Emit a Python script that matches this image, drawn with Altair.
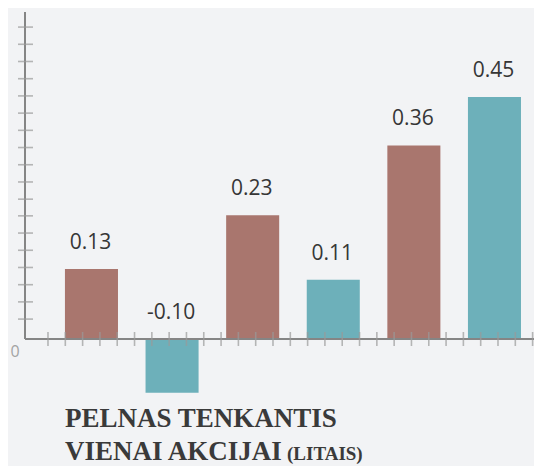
import altair as alt
import pandas as pd

# ---- data ----
categories = ["1", "2", "3", "4", "5", "6"]
values = [0.13, -0.10, 0.23, 0.11, 0.36, 0.45]
labels = ["0.13", "-0.10", "0.23", "0.11", "0.36", "0.45"]
bar_colors = ["#a9766e", "#6db0ba", "#a9766e", "#6db0ba", "#a9766e", "#6db0ba"]
x_ticks = list(range(29))
y_ticks = [0.037, 0.069, 0.101, 0.133, 0.165, 0.197, 0.229, 0.260, 0.292,
           0.324, 0.356, 0.388, 0.420, 0.452, 0.484, 0.516, 0.548, 0.580]
title_line1 = ["PELNAS TENKANTIS"]
title_line2 = ["VIENAI AKCIJAI"]
title_unit = ["(LITAIS)"]
zero_label = ["0"]

W, H = 526, 458
AXIS = "#858585"
TICK = "#9a9a9a"

bars_df = pd.DataFrame({"cat": categories, "value": values,
                        "label": labels, "color": bar_colors})

y_scale = alt.Scale(domain=[-0.23615, 0.61547], nice=False, zero=False)
x_band = alt.Scale(type="band", paddingInner=0.342, paddingOuter=0.434, align=0.814)

base = alt.Chart(bars_df)

bars = base.mark_bar().encode(
    x=alt.X("cat:N", scale=x_band, axis=None, sort=None),
    y=alt.Y("value:Q", scale=y_scale, axis=None),
    color=alt.Color("color:N", scale=None),
)

value_labels = base.transform_calculate(
    ly="max(datum.value, 0)"
).mark_text(
    dy=-20, dx=-1, baseline="alphabetic", align="center",
    font="Open Sans", fontSize=21, color="#363636",
).encode(
    x=alt.X("cat:N", scale=x_band, axis=None, sort=None),
    y=alt.Y("ly:Q", scale=y_scale, axis=None),
    text="label:N",
)

zero_line = alt.Chart(pd.DataFrame({"z": [0]})).mark_rule(
    color=AXIS, strokeWidth=2
).encode(
    y=alt.Y("z:Q", scale=y_scale, axis=None),
    x=alt.value(17), x2=alt.value(W),
)

y_line = alt.Chart(pd.DataFrame({"a": [0], "b": [0.608]})).mark_rule(
    color=AXIS, strokeWidth=2
).encode(
    x=alt.value(17),
    y=alt.Y("a:Q", scale=y_scale, axis=None),
    y2="b:Q",
)

xt = alt.Chart(pd.DataFrame({"t": x_ticks, "z": [0] * len(x_ticks)})).mark_tick(
    orient="vertical", size=14, thickness=1.6, color=TICK
).encode(
    x=alt.X("t:Q", scale=alt.Scale(domain=[-2.311, 28.08], nice=False, zero=False), axis=None),
    y=alt.Y("z:Q", scale=y_scale, axis=None),
)

yt = alt.Chart(pd.DataFrame({"v": y_ticks})).mark_tick(
    orient="horizontal", size=15, thickness=1.6, color=TICK
).encode(
    x=alt.value(17.5),
    y=alt.Y("v:Q", scale=y_scale, axis=None),
)

zero_txt = alt.Chart(pd.DataFrame({"s": zero_label, "z": [0]})).mark_text(
    dy=18, baseline="alphabetic", align="center",
    font="Open Sans", fontSize=16, color="#a3a3a3",
).encode(
    x=alt.value(7),
    y=alt.Y("z:Q", scale=y_scale, axis=None),
    text="s:N",
)

title_style = dict(font="Liberation Serif", fontWeight="bold", fontSize=27,
                   align="left", baseline="alphabetic", color="#3a3a3a")

t1 = alt.Chart(pd.DataFrame({"s": title_line1})).mark_text(**title_style).encode(
    x=alt.value(57), y=alt.value(419), text="s:N")
t2 = alt.Chart(pd.DataFrame({"s": title_line2})).mark_text(**title_style).encode(
    x=alt.value(57), y=alt.value(452), text="s:N")
t3 = alt.Chart(pd.DataFrame({"s": title_unit})).mark_text(
    font="Liberation Serif", fontWeight="bold", fontSize=19,
    align="left", baseline="alphabetic", color="#3a3a3a",
).encode(x=alt.value(279), y=alt.value(452), text="s:N")

chart = alt.layer(
    bars, value_labels, zero_line, y_line, xt, yt, zero_txt, t1, t2, t3
).resolve_scale(x="independent").properties(
    width=W, height=H, padding=0,
    autosize=alt.AutoSizeParams(type="none"),
    background="#f2f3f5",
).configure_view(stroke=None)

chart.save("out.html", embed_options={"renderer": "svg", "actions": False})
